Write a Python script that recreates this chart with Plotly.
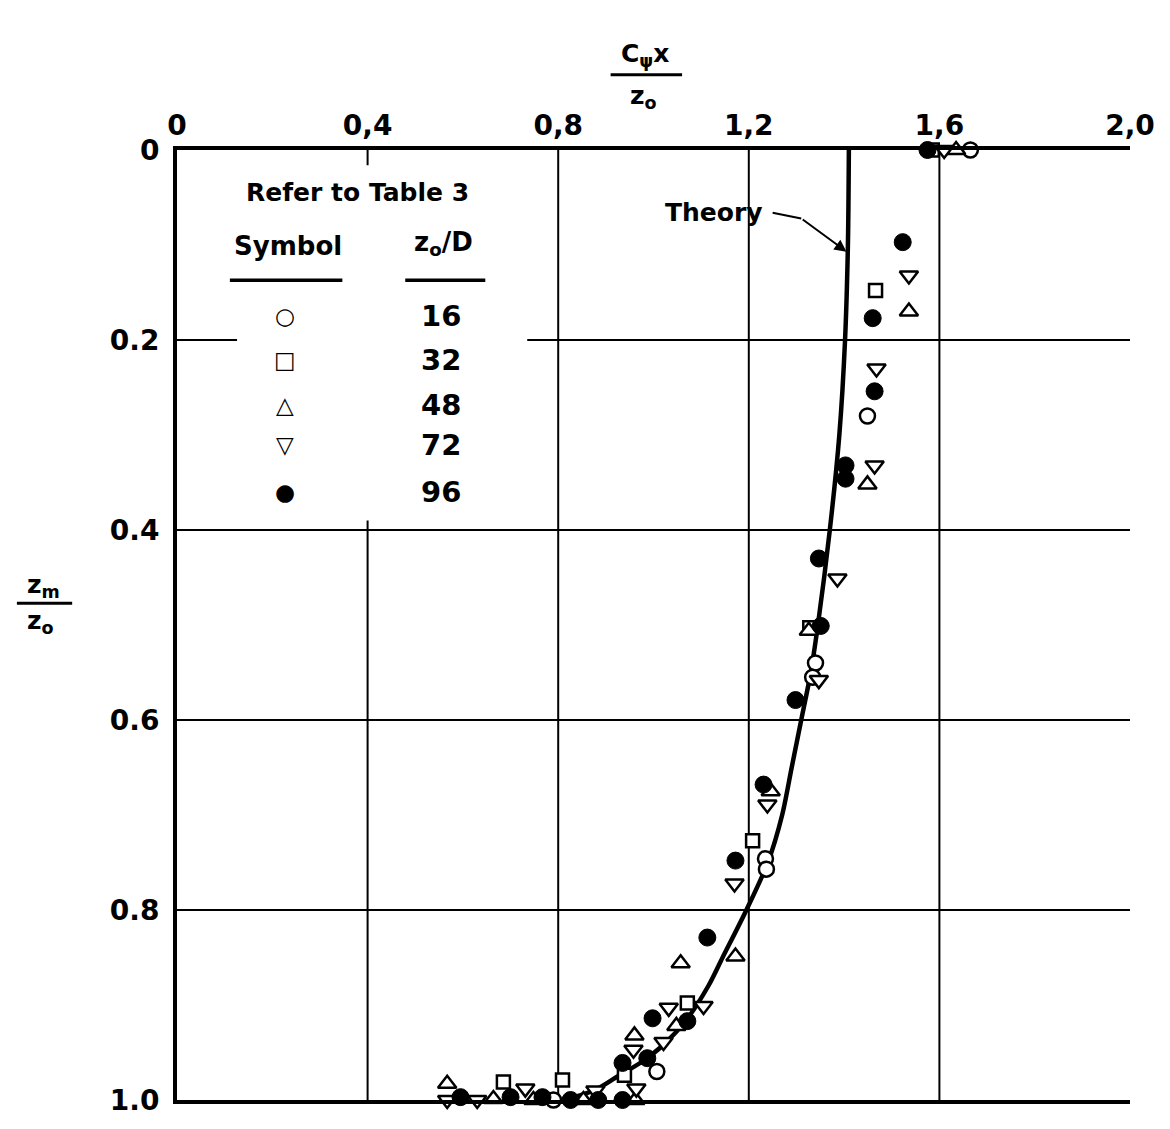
import plotly.graph_objects as go

# ---- data -------------------------------------------------------------
# theory curve: C_psi*x/z0 versus zm/z0
theory_x = [1.41, 1.408, 1.402, 1.39, 1.37, 1.345, 1.33, 1.31, 1.29, 1.27, 1.24,
            1.195, 1.145, 1.115, 1.07, 1.025, 0.975, 0.925, 0.875, 0.81]
theory_y = [0.0, 0.1, 0.2, 0.3, 0.4, 0.5, 0.55, 0.6, 0.65, 0.7, 0.75,
            0.8, 0.85, 0.88, 0.915, 0.94, 0.96, 0.975, 0.99, 1.0]

# measurements, grouped by z0/D
x_16 = [1.665, 1.449, 1.340, 1.334, 1.235, 1.237, 1.007, 0.790]
y_16 = [0.0, 0.280, 0.540, 0.555, 0.746, 0.757, 0.970, 1.0]

x_32 = [1.585, 1.466, 1.328, 1.208, 1.071, 0.939, 0.809, 0.685]
y_32 = [0.0, 0.148, 0.503, 0.727, 0.898, 0.974, 0.979, 0.981]

x_48 = [1.635, 1.536, 1.449, 1.326, 1.246, 1.172, 1.057, 1.048, 0.960,
        0.962, 0.853, 0.748, 0.664, 0.567]
y_48 = [0.0, 0.170, 0.352, 0.506, 0.675, 0.849, 0.856, 0.922, 0.932,
        1.0, 1.0, 1.0, 0.999, 0.983]

x_72 = [1.61, 1.536, 1.468, 1.464, 1.386, 1.347, 1.239, 1.170, 1.105, 1.032,
        1.021, 0.958, 0.964, 0.878, 0.731, 0.630, 0.567]
y_72 = [0.0, 0.132, 0.230, 0.332, 0.451, 0.558, 0.689, 0.772, 0.901, 0.903,
        0.939, 0.947, 0.988, 0.990, 0.988, 1.0, 1.0]

x_96 = [1.575, 1.523, 1.460, 1.464, 1.403, 1.403, 1.347, 1.351, 1.298, 1.231,
        1.172, 1.113, 1.071, 0.998, 0.987, 0.935, 0.935, 0.884, 0.826, 0.767,
        0.700, 0.595]
y_96 = [0.0, 0.097, 0.177, 0.254, 0.332, 0.346, 0.430, 0.501, 0.579, 0.668,
        0.748, 0.829, 0.917, 0.914, 0.956, 0.961, 1.0, 1.0, 1.0, 0.997,
        0.997, 0.997]

x_ticks = [0, 0.4, 0.8, 1.2, 1.6, 2.0]
x_ticktext = ["0", "0,4", "0,8", "1,2", "1,6", "2,0"]
y_ticks = [0, 0.2, 0.4, 0.6, 0.8, 1.0]
y_ticktext = ["0", "0.2", "0.4", "0.6", "0.8", "1.0"]

legend_symbols = ["○", "□", "△", "▽", "●"]
legend_values = ["16", "32", "48", "72", "96"]

FONT = "DejaVu Sans"

fig = go.Figure()

fig.add_trace(go.Scatter(
    x=theory_x, y=theory_y, mode="lines",
    line=dict(color="black", width=4.5, shape="spline", smoothing=0.8),
    cliponaxis=False, hoverinfo="skip"))


def open_marker(symbol, size):
    return dict(symbol=symbol, size=size, color="white",
                line=dict(color="black", width=2.5))


series = [
    (x_16, y_16, open_marker("circle", 15)),
    (x_32, y_32, open_marker("square", 13)),
    (x_48, y_48, open_marker("triangle-up", 16)),
    (x_72, y_72, open_marker("triangle-down", 16)),
    (x_96, y_96, dict(symbol="circle", size=17, color="black",
                      line=dict(color="black", width=1))),
]
for xs, ys, mk in series:
    fig.add_trace(go.Scatter(x=xs, y=ys, mode="markers", marker=mk,
                             cliponaxis=False))

# grid lines drawn as shapes so the legend area can be blanked out
shapes = []
for xv in x_ticks[1:-1]:
    shapes.append(dict(type="line", xref="x", yref="y", x0=xv, x1=xv,
                       y0=0, y1=1, line=dict(color="black", width=2),
                       layer="below"))
for yv in y_ticks[1:-1]:
    shapes.append(dict(type="line", xref="x", yref="y", x0=0, x1=2.0,
                       y0=yv, y1=yv, line=dict(color="black", width=2),
                       layer="below"))
# blank box behind the symbol table
shapes.append(dict(type="rect", xref="x", yref="y", x0=0.126, x1=0.735,
                   y0=0.016, y1=0.39, fillcolor="white",
                   line=dict(width=0), layer="below"))
# underlines in the symbol table
shapes.append(dict(type="line", xref="x", yref="y", x0=0.111, x1=0.347,
                   y0=0.137, y1=0.137, line=dict(color="black", width=3.5)))
shapes.append(dict(type="line", xref="x", yref="y", x0=0.479, x1=0.647,
                   y0=0.137, y1=0.137, line=dict(color="black", width=3.5)))
# fraction bars of the axis titles
shapes.append(dict(type="line", xref="paper", yref="paper", x0=0.455,
                   x1=0.530, y0=1.0793, y1=1.0793,
                   line=dict(color="black", width=3)))
shapes.append(dict(type="line", xref="paper", yref="paper", x0=-0.168,
                   x1=-0.110, y0=0.523, y1=0.523,
                   line=dict(color="black", width=3)))
# leader from the "Theory" label
shapes.append(dict(type="line", xref="x", yref="y", x0=1.25, x1=1.31,
                   y0=0.066, y1=0.072, line=dict(color="black", width=2)))

annotations = []


def txt(x, y, s, size, xref="x", yref="y", weight="bold"):
    annotations.append(dict(x=x, y=y, xref=xref, yref=yref, text=s,
                            showarrow=False,
                            font=dict(family=FONT, size=size, color="black",
                                      weight=weight),
                            xanchor="center", yanchor="middle"))


txt(0.378, 0.045, "Refer to Table 3", 25)
txt(0.233, 0.101, "Symbol", 26)
txt(0.559, 0.098, "z<sub>o</sub>/D", 26)
legend_rows = [0.175, 0.221, 0.268, 0.311, 0.360]
for sym, val, yy in zip(legend_symbols, legend_values, legend_rows):
    txt(0.227, yy, sym, 23)
    txt(0.553, yy, val, 29)

txt(1.126, 0.066, "Theory", 25)
annotations.append(dict(x=1.405, y=0.107, xref="x", yref="y",
                        ax=1.31, ay=0.072, axref="x", ayref="y", text="",
                        showarrow=True, arrowhead=2, arrowsize=1.2,
                        arrowwidth=2, arrowcolor="black"))

# axis titles as stacked fractions
txt(0.491, 1.100, "C<sub>ψ</sub>x", 25, "paper", "paper")
txt(0.489, 1.056, "z<sub>o</sub>", 25, "paper", "paper")
txt(-0.140, 0.541, "z<sub>m</sub>", 25, "paper", "paper")
txt(-0.143, 0.503, "z<sub>o</sub>", 25, "paper", "paper")

tick_font = dict(family=FONT, size=28, color="black", weight="bold")

fig.update_layout(
    width=1170, height=1129,
    margin=dict(l=177, r=40, t=150, b=20),
    plot_bgcolor="white", paper_bgcolor="white",
    showlegend=False,
    shapes=shapes, annotations=annotations,
    font=dict(family=FONT, color="black"),
    xaxis=dict(range=[0, 2.0], side="top", tickvals=x_ticks,
               ticktext=x_ticktext, showgrid=False, zeroline=False,
               showline=True, linewidth=4, linecolor="black", mirror=True,
               ticks="", tickfont=tick_font, ticklabeloverflow="allow"),
    yaxis=dict(range=[1.0, 0], tickvals=y_ticks, ticktext=y_ticktext,
               showgrid=False, zeroline=False, showline=True, linewidth=4,
               linecolor="black", mirror=False, ticks="",
               ticklabelstandoff=8, tickfont=tick_font,
               ticklabeloverflow="allow"),
)

fig.write_html("out.html")
